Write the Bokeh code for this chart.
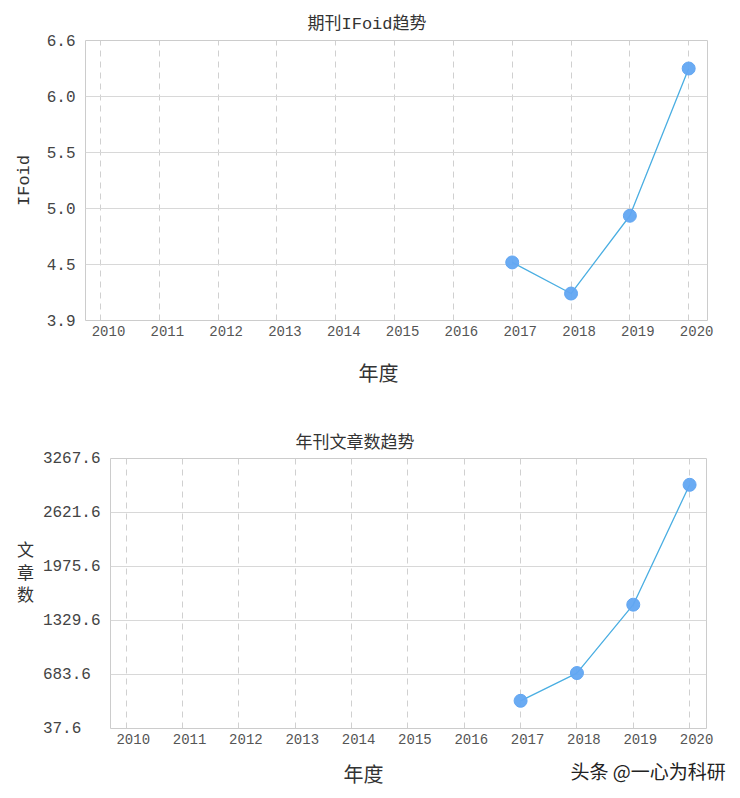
from bokeh.plotting import figure
from bokeh.layouts import column, row
from bokeh.models import FixedTicker, Range1d, Title, ColumnDataSource
from bokeh.embed import file_html
from bokeh.resources import INLINE

# ---- data ----
years = [2010, 2011, 2012, 2013, 2014, 2015, 2016, 2017, 2018, 2019, 2020]
year_labels = ["2010", "2011", "2012", "2013", "2014", "2015", "2016",
               "2017", "2018", "2019", "2020"]

ifoid_years = [2017, 2018, 2019, 2020]
ifoid_values = [4.46, 4.16, 4.91, 6.33]
ifoid_ticks = [3.9, 4.44, 4.98, 5.52, 6.06, 6.6]
ifoid_tick_labels = ["3.9", "4.5", "5.0", "5.5", "6.0", "6.6"]

article_years = [2017, 2018, 2019, 2020]
article_values = [369, 701, 1519, 2953]
article_ticks = [37.6, 683.6, 1329.6, 1975.6, 2621.6, 3267.6]
article_tick_labels = ["37.6", "683.6", "1329.6", "1975.6", "2621.6", "3267.6"]

LINE = "#4aaee2"
MARK = "#62a6f2"
MONO = "Liberation Mono"
CJK = "Noto Sans CJK SC"
FIG_W = 732


def make_chart(title, title_font, title_offset, title_standoff, ylabel,
               ylabel_horizontal, xs, ys, x_range, y_range, yticks, ylabels,
               height, mb_left, mb_right, mb_top, mb_bottom, label_shift,
               ylabel_font, ylabel_standoff):
    p = figure(width=FIG_W, height=height, output_backend="svg",
               toolbar_location=None,
               x_range=Range1d(*x_range), y_range=Range1d(*y_range),
               min_border_left=mb_left, min_border_right=mb_right,
               min_border_top=mb_top, min_border_bottom=mb_bottom)
    p.outline_line_color = "#cccccc"
    p.background_fill_color = "white"
    p.border_fill_color = "white"

    p.title = Title(text=title, align="left", offset=title_offset,
                    text_font=title_font, text_font_size="17px",
                    text_font_style="normal", text_color="#333333",
                    standoff=title_standoff)

    # x axis: labels sit slightly right of the gridlines
    label_pos = [y + label_shift for y in years]
    p.xaxis.ticker = FixedTicker(ticks=label_pos)
    p.xaxis.major_label_overrides = dict(zip(label_pos, year_labels))
    p.xgrid.ticker = FixedTicker(ticks=years)
    p.xaxis.major_tick_line_color = None
    p.xaxis.major_tick_out = 0
    p.xaxis.major_tick_in = 0
    p.xaxis.minor_tick_line_color = None
    p.xaxis.minor_tick_out = 0
    p.xaxis.axis_line_color = None
    p.xaxis.major_label_standoff = 5
    p.xaxis.major_label_text_font = MONO
    p.xaxis.major_label_text_font_size = "14px"
    p.xaxis.major_label_text_color = "#555555"

    # y axis
    width = max(len(s) for s in ylabels)
    padded = [s + "\u00a0" * (width - len(s)) for s in ylabels]
    p.yaxis.ticker = FixedTicker(ticks=yticks)
    p.yaxis.major_label_overrides = dict(zip(yticks, padded))
    p.yaxis.major_tick_line_color = None
    p.yaxis.major_tick_out = 0
    p.yaxis.major_tick_in = 0
    p.yaxis.minor_tick_line_color = None
    p.yaxis.minor_tick_out = 0
    p.yaxis.axis_line_color = None
    p.yaxis.major_label_standoff = 10
    p.yaxis.major_label_text_font = MONO
    p.yaxis.major_label_text_font_size = "16px"
    p.yaxis.major_label_text_color = "#444444"
    p.yaxis.axis_label = ylabel
    p.yaxis.axis_label_text_font = ylabel_font
    p.yaxis.axis_label_text_font_size = "17px"
    p.yaxis.axis_label_text_font_style = "normal"
    p.yaxis.axis_label_text_color = "#333333"
    p.yaxis.axis_label_standoff = ylabel_standoff
    if ylabel_horizontal:
        p.yaxis.axis_label_orientation = "horizontal"
        p.yaxis.axis_label_text_line_height = 0.9

    p.xgrid.grid_line_color = "#d0d0d0"
    p.xgrid.grid_line_dash = "6 5"
    p.ygrid.grid_line_color = "#d8d8d8"

    src = ColumnDataSource(dict(x=xs, y=ys))
    p.line("x", "y", source=src, line_color=LINE, line_width=1.3)
    p.scatter("x", "y", source=src, size=13, fill_color=MARK,
              line_color=MARK, fill_alpha=0.95)
    return p


def x_title(offset, standoff):
    return Title(text="年度", align="left", offset=offset,
                 text_font=CJK, text_font_size="20px",
                 text_font_style="normal", text_color="#333333",
                 standoff=standoff)


p1 = make_chart("期刊IFoid趋势", "Liberation Mono, Noto Sans CJK SC", 222, 13,
                "IFoid", False, ifoid_years, ifoid_values,
                (2009.745, 2020.32), (3.9, 6.6), ifoid_ticks, ifoid_tick_labels,
                404, 85, 25, 40, 84, 0.136, MONO, 10)
p1.add_layout(x_title(273, 34), "below")

p2 = make_chart("年刊文章数趋势", CJK, 185, 12, "文\n章\n数\n\n", True,
                article_years, article_values, (2009.72, 2020.30),
                (37.6, 3267.6), article_ticks, article_tick_labels,
                394, 110, 26, 54, 70, 0.124, CJK, 6)
# watermark, on the same line as the bottom axis title
p2.add_layout(Title(text="头条 @一心为科研", align="left", offset=460,
                    text_font=CJK, text_font_size="19px",
                    text_font_style="normal", text_color="#222222",
                    standoff=-74), "below")
p2.add_layout(x_title(233, 20), "below")

layout = column(row(p1), row(p2), spacing=0)
open("out.html", "w").write(file_html(layout, INLINE))
